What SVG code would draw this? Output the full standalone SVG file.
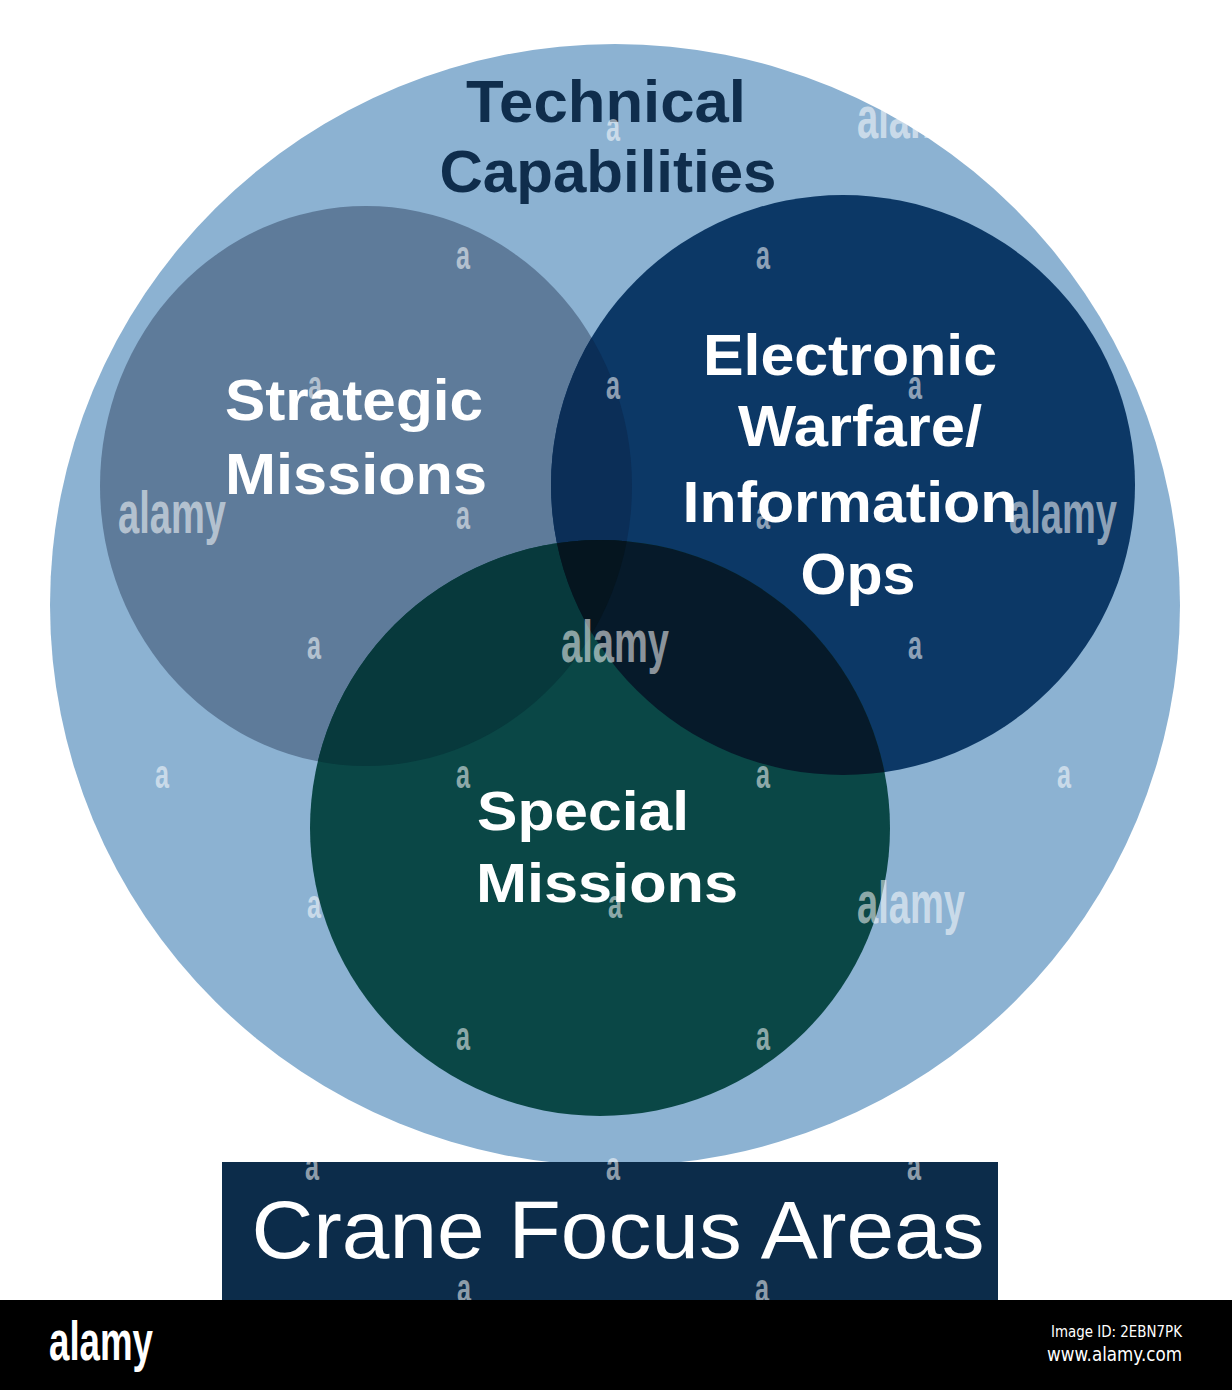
<svg xmlns="http://www.w3.org/2000/svg" width="1232" height="1390" viewBox="0 0 1232 1390">
  <style>
    .lbl { font-family: "Liberation Sans", Arial, sans-serif; font-weight: bold; text-anchor: middle; }
    .dark { fill: #0f2d4c; }
    .white { fill: #ffffff; }
    .wm { font-family: "Liberation Sans", Arial, sans-serif; font-weight: bold; fill: #ffffff; fill-opacity: 0.55; }
  </style>
  <defs>
    <clipPath id="clipS"><ellipse cx="366" cy="486" rx="266" ry="280"/></clipPath>
    <clipPath id="clipE"><ellipse cx="843" cy="485" rx="292" ry="290"/></clipPath>
  </defs>
  <rect x="0" y="0" width="1232" height="1390" fill="#ffffff"/>

  <g id="technical-capabilities">
    <ellipse cx="615" cy="605" rx="565" ry="561" fill="#8cb2d2"/>
    <text class="lbl dark" x="606" y="122" font-size="60" textLength="280" lengthAdjust="spacingAndGlyphs">Technical</text>
    <text class="lbl dark" x="608" y="192" font-size="60" textLength="337" lengthAdjust="spacingAndGlyphs">Capabilities</text>
  </g>

  <g id="strategic-missions">
    <ellipse cx="366" cy="486" rx="266" ry="280" fill="#5e7b9a"/>
  </g>
  <g id="electronic-warfare">
    <ellipse cx="843" cy="485" rx="292" ry="290" fill="#0c3866"/>
  </g>
  <g id="special-missions">
    <ellipse cx="600" cy="828" rx="290" ry="288" fill="#0a4746"/>
  </g>

  <g id="overlaps">
    <ellipse cx="843" cy="485" rx="292" ry="290" fill="#0b2e57" clip-path="url(#clipS)"/>
    <ellipse cx="600" cy="828" rx="290" ry="288" fill="#07393c" clip-path="url(#clipS)"/>
    <ellipse cx="600" cy="828" rx="290" ry="288" fill="#061a2a" clip-path="url(#clipE)"/>
    <g clip-path="url(#clipE)">
      <ellipse cx="600" cy="828" rx="290" ry="288" fill="#05151f" clip-path="url(#clipS)"/>
    </g>
  </g>

  <g id="labels">
    <text class="lbl white" x="354" y="420" font-size="58" textLength="258" lengthAdjust="spacingAndGlyphs">Strategic</text>
    <text class="lbl white" x="356" y="494" font-size="58" textLength="262" lengthAdjust="spacingAndGlyphs">Missions</text>
    <text class="lbl white" x="850" y="375" font-size="58" textLength="294" lengthAdjust="spacingAndGlyphs">Electronic</text>
    <text class="lbl white" x="860" y="446" font-size="58" textLength="244" lengthAdjust="spacingAndGlyphs">Warfare/</text>
    <text class="lbl white" x="850" y="522" font-size="58" textLength="335" lengthAdjust="spacingAndGlyphs">Information</text>
    <text class="lbl white" x="858" y="594" font-size="58" textLength="115" lengthAdjust="spacingAndGlyphs">Ops</text>
    <text class="lbl white" x="583" y="830" font-size="56" textLength="212" lengthAdjust="spacingAndGlyphs">Special</text>
    <text class="lbl white" x="607" y="902" font-size="56" textLength="262" lengthAdjust="spacingAndGlyphs">Missions</text>
  </g>

  <g id="banner">
    <rect x="222" y="1162" width="776" height="138" fill="#0c2c4a"/>
    <text x="618" y="1258" font-family="'Liberation Sans', Arial, sans-serif" font-size="82" fill="#ffffff" text-anchor="middle" textLength="733" lengthAdjust="spacingAndGlyphs">Crane Focus Areas</text>
  </g>

  <g id="watermarks">
    <text class="wm" x="172" y="533" font-size="60" text-anchor="middle" textLength="108" lengthAdjust="spacingAndGlyphs">alamy</text>
    <text class="wm" x="1063" y="533" font-size="60" text-anchor="middle" textLength="108" lengthAdjust="spacingAndGlyphs">alamy</text>
    <text class="wm" x="615" y="662" font-size="60" text-anchor="middle" textLength="108" lengthAdjust="spacingAndGlyphs">alamy</text>
    <text class="wm" x="911" y="923" font-size="60" text-anchor="middle" textLength="108" lengthAdjust="spacingAndGlyphs">alamy</text>
    <text class="wm" x="911" y="138" font-size="60" text-anchor="middle" textLength="108" lengthAdjust="spacingAndGlyphs" fill-opacity="0.35">alamy</text>
    <g font-size="40" text-anchor="middle">
      <text class="wm" x="613" y="141" textLength="14" lengthAdjust="spacingAndGlyphs">a</text>
      <text class="wm" x="463" y="269" textLength="14" lengthAdjust="spacingAndGlyphs">a</text>
      <text class="wm" x="763" y="269" textLength="14" lengthAdjust="spacingAndGlyphs">a</text>
      <text class="wm" x="315" y="399" textLength="14" lengthAdjust="spacingAndGlyphs">a</text>
      <text class="wm" x="613" y="399" textLength="14" lengthAdjust="spacingAndGlyphs">a</text>
      <text class="wm" x="915" y="399" textLength="14" lengthAdjust="spacingAndGlyphs">a</text>
      <text class="wm" x="463" y="529" textLength="14" lengthAdjust="spacingAndGlyphs">a</text>
      <text class="wm" x="763" y="529" textLength="14" lengthAdjust="spacingAndGlyphs">a</text>
      <text class="wm" x="314" y="659" textLength="14" lengthAdjust="spacingAndGlyphs">a</text>
      <text class="wm" x="915" y="659" textLength="14" lengthAdjust="spacingAndGlyphs">a</text>
      <text class="wm" x="162" y="788" textLength="14" lengthAdjust="spacingAndGlyphs">a</text>
      <text class="wm" x="463" y="788" textLength="14" lengthAdjust="spacingAndGlyphs">a</text>
      <text class="wm" x="763" y="788" textLength="14" lengthAdjust="spacingAndGlyphs">a</text>
      <text class="wm" x="1064" y="788" textLength="14" lengthAdjust="spacingAndGlyphs">a</text>
      <text class="wm" x="314" y="918" textLength="14" lengthAdjust="spacingAndGlyphs">a</text>
      <text class="wm" x="615" y="918" textLength="14" lengthAdjust="spacingAndGlyphs">a</text>
      <text class="wm" x="463" y="1050" textLength="14" lengthAdjust="spacingAndGlyphs">a</text>
      <text class="wm" x="763" y="1050" textLength="14" lengthAdjust="spacingAndGlyphs">a</text>
      <text class="wm" x="312" y="1180" textLength="14" lengthAdjust="spacingAndGlyphs">a</text>
      <text class="wm" x="613" y="1180" textLength="14" lengthAdjust="spacingAndGlyphs">a</text>
      <text class="wm" x="914" y="1180" textLength="14" lengthAdjust="spacingAndGlyphs">a</text>
      <text class="wm" x="464" y="1302" textLength="14" lengthAdjust="spacingAndGlyphs">a</text>
      <text class="wm" x="762" y="1302" textLength="14" lengthAdjust="spacingAndGlyphs">a</text>
    </g>
  </g>

  <g id="footer">
    <rect x="0" y="1300" width="1232" height="90" fill="#000000"/>
    <text x="49" y="1360" font-family="'Liberation Sans', Arial, sans-serif" font-weight="bold" font-size="56" fill="#ffffff" textLength="104" lengthAdjust="spacingAndGlyphs">alamy</text>
    <text x="1182" y="1337" font-family="'DejaVu Sans', sans-serif" font-size="15" fill="#ffffff" text-anchor="end" textLength="131" lengthAdjust="spacingAndGlyphs">Image ID: 2EBN7PK</text>
    <text x="1182" y="1361" font-family="'DejaVu Sans', sans-serif" font-size="19" fill="#ffffff" text-anchor="end" textLength="135" lengthAdjust="spacingAndGlyphs">www.alamy.com</text>
  </g>
</svg>
